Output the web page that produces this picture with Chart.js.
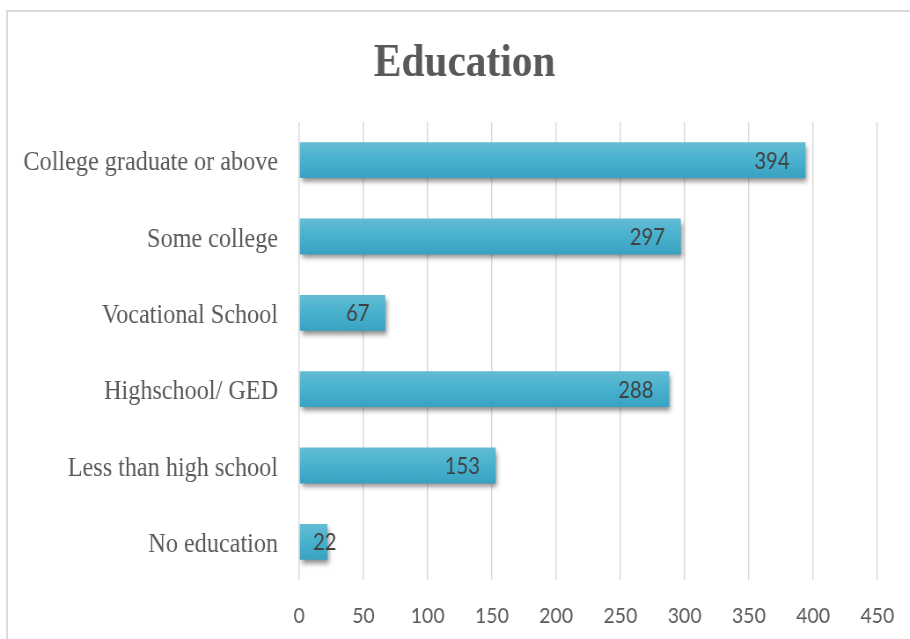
<!DOCTYPE html>
<html>
<head>
<meta charset="utf-8">
<script src="https://cdn.jsdelivr.net/npm/chart.js"></script>
<style>
  html, body { margin: 0; padding: 0; background: #fff; overflow: hidden; }
  /* the chart is laid out wide and condensed horizontally */
  #edu { display: block; transform: scaleX(0.88); transform-origin: 0 0; }
</style>
</head>
<body>
<canvas id="edu" width="1034" height="639"></canvas>
<script>
const categories = [
  'College graduate or above',
  'Some college',
  'Vocational School',
  'Highschool/ GED',
  'Less than high school',
  'No education'
];
const counts = [394, 297, 67, 288, 153, 22];
const axisMax = 450;
const axisStep = 50;
const chartTitle = 'Education';

const frame = {
  id: 'frame',
  beforeDraw(chart) {
    const ctx = chart.ctx;
    ctx.save();
    ctx.fillStyle = '#fff';
    ctx.fillRect(0, 0, chart.width, chart.height);
    ctx.strokeStyle = '#d9d9d9';
    ctx.lineWidth = 2;
    ctx.strokeRect(8, 11, chart.width + 20, chart.height + 20);
    ctx.font = 'bold 47px "Liberation Serif"';
    ctx.fillStyle = '#595959';
    ctx.textAlign = 'center';
    ctx.textBaseline = 'alphabetic';
    ctx.fillText(chartTitle, 528, 76);
    ctx.restore();
  }
};

const barLook = {
  id: 'barLook',
  beforeDatasetsDraw(chart) {
    const ctx = chart.ctx;
    chart.getDatasetMeta(0).data.forEach(el => {
      const top = el.y - el.height / 2;
      const g = ctx.createLinearGradient(0, top, 0, top + el.height);
      g.addColorStop(0, '#64bcd4');
      g.addColorStop(0.5, '#47b1ce');
      g.addColorStop(1, '#3aa2c1');
      el.options = Object.assign({}, el.options, { backgroundColor: g });
    });
    ctx.save();
    ctx.shadowColor = 'rgba(0,0,0,0.45)';
    ctx.shadowBlur = 5;
    ctx.shadowOffsetX = 2;
    ctx.shadowOffsetY = 4;
  },
  afterDatasetsDraw(chart) {
    const ctx = chart.ctx;
    ctx.restore();
    ctx.save();
    ctx.font = '23px Lato';
    ctx.fillStyle = '#404040';
    ctx.textAlign = 'left';
    ctx.textBaseline = 'middle';
    chart.getDatasetMeta(0).data.forEach((el, i) => {
      const txt = String(counts[i]);
      const w = ctx.measureText(txt).width;
      const x = Math.max(el.x - 18 - w, el.base + 15);
      ctx.fillText(txt, x, el.y + 1);
    });
    ctx.restore();
  }
};

new Chart(document.getElementById('edu'), {
  type: 'bar',
  data: {
    labels: categories,
    datasets: [{
      data: counts,
      backgroundColor: '#47b1ce',
      borderWidth: 0,
      barPercentage: 0.47,
      categoryPercentage: 1
    }]
  },
  options: {
    indexAxis: 'y',
    responsive: false,
    animation: false,
    devicePixelRatio: 1,
    layout: { padding: { top: 122, left: 0, right: 37, bottom: 0 } },
    plugins: {
      legend: { display: false },
      title: { display: false },
      tooltip: { enabled: false }
    },
    scales: {
      x: {
        min: 0,
        max: axisMax,
        afterFit(scale) {
          scale.height = 59;
          scale.paddingLeft = 0;
          scale.paddingRight = 0;
        },
        grid: { color: '#d9d9d9', lineWidth: 1.4, drawTicks: false },
        border: { display: false },
        ticks: {
          stepSize: axisStep,
          padding: 23,
          color: '#595959',
          font: { family: 'Lato', size: 22 }
        }
      },
      y: {
        afterFit(scale) { scale.width = 340; },
        grid: { display: false, drawTicks: false },
        border: { display: false },
        ticks: {
          padding: 24,
          labelOffset: 3,
          color: '#595959',
          font: { family: 'Liberation Serif', size: 27.5 }
        }
      }
    }
  },
  plugins: [frame, barLook]
});
</script>
</body>
</html>
